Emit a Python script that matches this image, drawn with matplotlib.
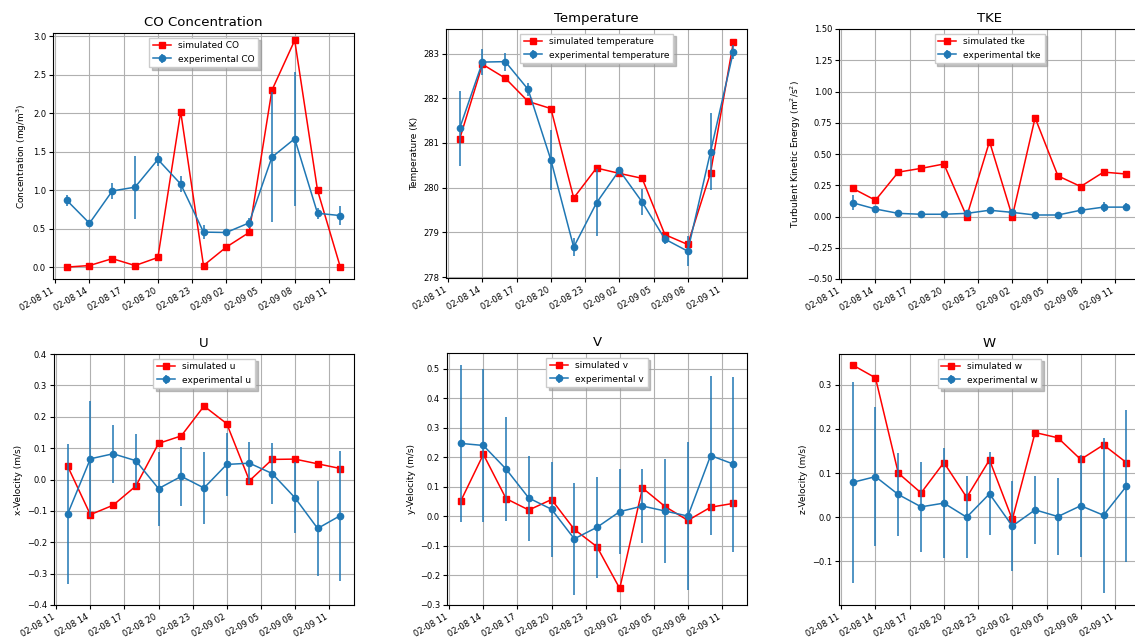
import datetime as dt
import matplotlib
matplotlib.use("Agg")
import matplotlib.pyplot as plt
import matplotlib.dates as mdates

# ---- data ----
start = dt.datetime(2020, 2, 8, 12)
times = [start + dt.timedelta(hours=2 * i) for i in range(13)]

co_sim = [0.0, 0.02, 0.11, 0.02, 0.125, 2.02, 0.02, 0.26, 0.45, 2.30, 2.95, 1.00, 0.0]
co_exp = [0.87, 0.57, 0.99, 1.04, 1.40, 1.08, 0.455, 0.45, 0.575, 1.43, 1.67, 0.70, 0.67]
co_err = [0.07, 0.03, 0.10, 0.41, 0.09, 0.10, 0.09, 0.05, 0.07, 0.85, 0.87, 0.07, 0.12]

t_sim = [281.09, 282.76, 282.45, 281.93, 281.77, 279.77, 280.44, 280.32, 280.21, 278.95, 278.73, 280.33, 283.25]
t_exp = [281.33, 282.81, 282.82, 282.20, 280.62, 278.67, 279.66, 280.39, 279.68, 278.85, 278.58, 280.80, 283.04]
t_err = [0.84, 0.30, 0.20, 0.15, 0.67, 0.20, 0.75, 0.05, 0.29, 0.10, 0.33, 0.86, 0.15]

tke_sim = [0.225, 0.13, 0.355, 0.385, 0.42, 0.0, 0.60, 0.0, 0.79, 0.325, 0.24, 0.355, 0.34]
tke_exp = [0.11, 0.06, 0.025, 0.018, 0.018, 0.025, 0.05, 0.033, 0.012, 0.012, 0.05, 0.075, 0.075]
tke_err = [0.06, 0.02, 0.01, 0.01, 0.01, 0.01, 0.02, 0.01, 0.01, 0.01, 0.02, 0.04, 0.03]

u_sim = [0.0425, -0.112, -0.082, -0.021, 0.115, 0.139, 0.234, 0.178, -0.004, 0.064, 0.065, 0.050, 0.035]
u_exp = [-0.11, 0.066, 0.082, 0.06, -0.029, 0.01, -0.027, 0.048, 0.052, 0.019, -0.058, -0.156, -0.115]
u_err = [0.222, 0.185, 0.092, 0.086, 0.118, 0.094, 0.116, 0.10, 0.066, 0.097, 0.113, 0.151, 0.207]

v_sim = [0.051, 0.21, 0.06, 0.0215, 0.057, -0.044, -0.103, -0.244, 0.096, 0.033, -0.0136, 0.031, 0.044]
v_exp = [0.247, 0.24, 0.16, 0.062, 0.024, -0.076, -0.037, 0.016, 0.035, 0.018, 0.001, 0.206, 0.177]
v_err = [0.265, 0.26, 0.177, 0.144, 0.161, 0.19, 0.17, 0.145, 0.125, 0.175, 0.25, 0.27, 0.296]

w_sim = [0.345, 0.316, 0.10, 0.055, 0.124, 0.045, 0.13, -0.005, 0.192, 0.18, 0.131, 0.164, 0.124]
w_exp = [0.079, 0.092, 0.0515, 0.0235, 0.032, 0.0, 0.053, -0.02, 0.0167, 0.0015, 0.026, 0.0045, 0.07]
w_err = [0.228, 0.157, 0.093, 0.102, 0.125, 0.093, 0.094, 0.102, 0.077, 0.087, 0.116, 0.176, 0.172]

panels = [
    ("CO Concentration", "Concentration (mg/m$^3$)", "CO", co_sim, co_exp, co_err, (-0.155, 3.045)),
    ("Temperature", "Temperature (K)", "temperature", t_sim, t_exp, t_err, (277.98, 283.55)),
    ("TKE", "Turbulent Kinetic Energy (m$^2$/s$^2$)", "tke", tke_sim, tke_exp, tke_err, (-0.5, 1.5)),
    ("U", "x-Velocity (m/s)", "u", u_sim, u_exp, u_err, (-0.4, 0.4)),
    ("V", "y-Velocity (m/s)", "v", v_sim, v_exp, v_err, (-0.3, 0.553)),
    ("W", "z-Velocity (m/s)", "w", w_sim, w_exp, w_err, (-0.199, 0.370)),
]

W, H = 1135, 641
boxes = [
    (53, 33, 354, 279),
    (446, 29, 747, 278),
    (839, 29, 1140, 279),
    (54, 354, 354, 605),
    (447, 353, 747, 605),
    (839, 354, 1140, 605),
]

fig = plt.figure(figsize=(W / 100, H / 100), dpi=100)

for (title, ylabel, key, sim, exp, err, ylim), (l, t, r, b) in zip(panels, boxes):
    ax = fig.add_axes([l / W, 1 - b / H, (r - l) / W, (b - t) / H])
    ax.plot(times, sim, color="red", marker="s", markersize=4.5, linewidth=1.1,
            label="simulated " + key)
    ax.errorbar(times, exp, yerr=err, color="#1f77b4", marker="o", markersize=4.5,
                linewidth=1.1, elinewidth=1.1, label="experimental " + key)
    ax.set_title(title, fontsize=9.5, pad=5)
    ax.set_ylabel(ylabel, fontsize=6.5, labelpad=3)
    ax.set_ylim(*ylim)
    ax.xaxis.set_major_locator(mdates.HourLocator(byhour=range(2, 24, 3)))
    ax.xaxis.set_major_formatter(mdates.DateFormatter("%m-%d %H"))
    ax.tick_params(axis="both", labelsize=6, length=3, pad=2)
    for lab in ax.get_xticklabels():
        lab.set_rotation(30)
        lab.set_ha("right")
    ax.grid(True, color="#b0b0b0", linewidth=0.8)
    ax.legend(loc="upper center", fontsize=6.5,
              shadow={"color": "#999999", "alpha": 0.6}, framealpha=1,
              fancybox=False, edgecolor="#cccccc")

fig.savefig("out.png", dpi=100)
